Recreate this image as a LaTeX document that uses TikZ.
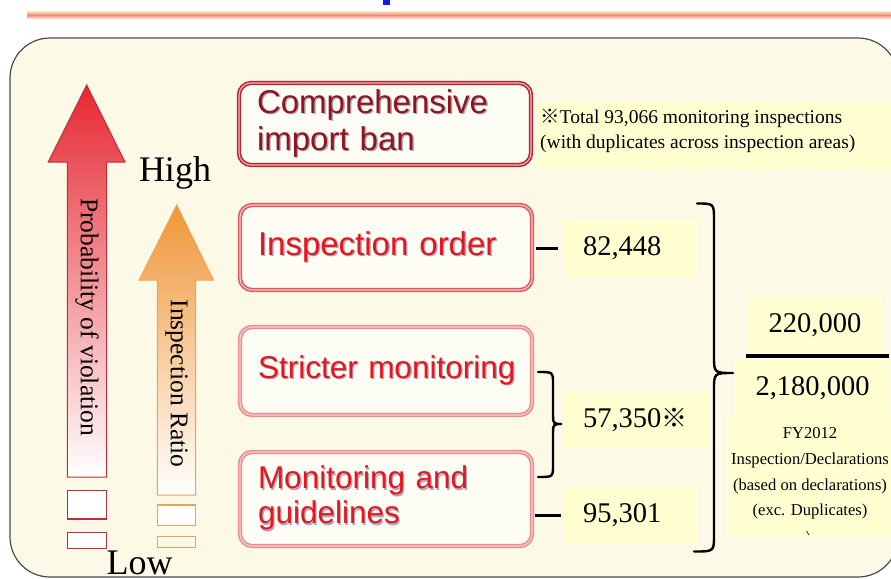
\documentclass[tikz,border=0pt]{standalone}
\usepackage{fontspec}
\setmainfont{Liberation Serif}
\newfontfamily\arialf{Liberation Sans}
\newfontfamily\cjkf{Noto Sans CJK JP}
\usetikzlibrary{calc}

\definecolor{bgcream}{RGB}{252,250,230}
\definecolor{ylw}{RGB}{255,255,210}
\definecolor{darkred}{RGB}{145,20,30}
\definecolor{brred}{RGB}{232,20,30}
\definecolor{frameA}{RGB}{185,35,50}
\definecolor{frameB}{RGB}{226,88,92}
\definecolor{frameC}{RGB}{236,140,140}
\definecolor{arrred}{RGB}{230,40,50}
\definecolor{arrpink}{RGB}{240,120,135}
\definecolor{arrredline}{RGB}{185,45,60}
\definecolor{arrorange}{RGB}{240,150,55}
\definecolor{arrorangelt}{RGB}{246,195,140}
\definecolor{arrorangeline}{RGB}{236,160,90}
\definecolor{titleblue}{RGB}{25,25,225}
\definecolor{lineTop}{RGB}{250,216,192}
\definecolor{lineMid}{RGB}{240,140,110}
\definecolor{lineBot}{RGB}{252,226,212}
\definecolor{shadowc}{RGB}{170,170,185}

\newcommand\shtxt[1]{\mbox{\rlap{\kern1.4pt\raisebox{-1.4pt}{\textcolor{shadowc}{#1}}}#1}}

\begin{document}
\begin{tikzpicture}[x=1pt,y=-1pt,
  lvlbox/.style={rounded corners=12pt, fill=bgcream!40!white, minimum width=292pt,
    inner xsep=18pt, inner ysep=0pt, text width=256pt, align=left,
    font=\arialf\fontsize{31.5}{35}\selectfont, line width=1.6pt, double distance=1.1pt},
  numbox/.style={fill=ylw, inner ysep=0pt, inner xsep=20pt, align=left,
    font=\fontsize{28.5}{30}\selectfont},
  ybox/.style={fill=ylw, inner sep=0pt},
  conn/.style={line width=3pt, draw=black},
  bracestyle/.style={line width=2.4pt, draw=black, line cap=round},
  sidetxt/.style={font=\fontsize{25.5}{27}\selectfont, rotate=-90, inner sep=0pt},
  bigword/.style={font=\fontsize{36}{38}\selectfont, inner sep=0pt, anchor=base},
  smallrectR/.style={draw=arrredline, line width=1.4pt, fill=white},
  smallrectO/.style={draw=arrorangeline, line width=1.4pt, fill=white}
]
\useasboundingbox (0,0) rectangle (891,578);
\fill[white] (0,0) rectangle (891,578);

% title remnant and rule
\fill[titleblue] (383,0) rectangle (390,5);
\shade[top color=lineTop, bottom color=lineBot, middle color=lineMid] (27,11.7) rectangle (891,18.3);

% outer frame
\draw[rounded corners=40pt, fill=bgcream, draw=black!70, line width=1.2pt] (10,38) rectangle (898,577);

% arrows
\shadedraw[top color=arrred, middle color=arrpink, bottom color=white, draw=arrredline, line width=1pt]
  (86.7,85) -- (125,162) -- (106.7,162) -- (106.7,477) -- (67.3,477) -- (67.3,162) -- (48.3,162) -- cycle;
\shadedraw[top color=arrorange, middle color=arrorangelt, bottom color=white, draw=arrorangeline, line width=1pt]
  (176.7,205) -- (213.3,280) -- (195.7,280) -- (195.7,495) -- (157.3,495) -- (157.3,280) -- (139.3,280) -- cycle;
\node[sidetxt] (prob) at (87,317) {Probability of violation};
\node[sidetxt] (ratio) at (176.5,383.5) {Inspection Ratio};
\draw[smallrectR] (67.3,490.7) rectangle (106.7,519);
\draw[smallrectR] (67.3,532.7) rectangle (106.7,548.3);
\draw[smallrectO] (157.3,505) rectangle (195.7,525.7);
\draw[smallrectO, fill=bgcream] (157.3,536.7) rectangle (195.7,547.3);
\node[bigword] (high) at (175,181) {High};
\node[bigword] (low) at (139.5,574) {Low};

% level boxes
\node[lvlbox, draw=frameA, double=frameC!60!white, minimum height=82pt, text=darkred,
  font=\arialf\fontsize{33}{37}\selectfont] (ban) at (385,124) {\shtxt{Comprehensive}\\\shtxt{import ban}};
\node[lvlbox, draw=frameB, double=frameC!45!white, minimum height=85pt, text=brred,
  font=\arialf\fontsize{33}{37}\selectfont] (insp) at (386,247.5) {\shtxt{Inspection order}};
\node[lvlbox, draw=frameC, double=frameC!40!white, minimum height=88pt, text=brred] (strict) at (386,371) {\shtxt{Stricter monitoring}};
\node[lvlbox, draw=frameC, double=frameC!40!white, minimum height=94pt, text=brred] (mon) at (386,499) {\shtxt{Monitoring and}\\\shtxt{guidelines}};

% note
\node[ybox, minimum width=360pt, minimum height=68pt] (notebox) at (718,136) {};
\node[anchor=west, inner sep=0pt, align=left, font=\fontsize{19.5}{25}\selectfont] (notetxt) at (540,131)
  {{\cjkf ※}Total 93,066 monitoring inspections\\(with duplicates across inspection areas)};

% numbers
\node[numbox, minimum width=134pt, minimum height=57pt, text width=94pt] (n82) at (630,248.5) {82,448};
\node[numbox, minimum width=147pt, minimum height=56pt, text width=107pt] (n57) at (636.5,420) {57,350{\cjkf\fontsize{26}{28}\selectfont ※}};
\node[numbox, minimum width=134pt, minimum height=56pt, text width=94pt] (n95) at (630,515) {95,301};

\draw[conn] ([xshift=3pt]insp.east |- n82.west) -- ([xshift=-5pt]n82.west);
\draw[conn] ([xshift=2pt]mon.east |- n95.west) -- ([xshift=-2pt]n95.west);

% small brace
\coordinate (sbA) at (538,372);
\coordinate (sbB) at (538,477);
\draw[bracestyle] (sbA) .. controls (553,372) and (553,372) .. (553,384) -- (553,412)
  .. controls (553,424) and (553,424) .. (562,424) .. controls (553,424) and (553,424) .. (553,436)
  -- (553,465) .. controls (553,477) and (553,477) .. (sbB);

% big brace
\coordinate (bbA) at (697,203.5);
\coordinate (bbB) at (694,551.5);
\draw[bracestyle] (bbA) .. controls (714,203.5) and (714,203.5) .. (714,220) -- (714,356)
  .. controls (714,373) and (714,373) .. (733.5,373) .. controls (714,373) and (714,373) .. (714,390)
  -- (714,535) .. controls (714,551.5) and (714,551.5) .. (bbB);

% totals
\node[ybox, minimum width=134pt, minimum height=56pt, font=\fontsize{28.5}{30}\selectfont] (n220) at (815,325) {220,000};
\node[ybox, minimum width=164pt, minimum height=120pt] (decl) at (809,477) {};
\node[ybox, minimum width=155pt, minimum height=57pt, font=\fontsize{28.5}{30}\selectfont] (n218) at (812.5,388.5) {2,180,000};
\coordinate (fracA) at (746,355.5);
\coordinate (fracB) at (889,355.5);
\draw[line width=4pt] (fracA) -- (fracB);
\node[inner sep=0pt, align=center, font=\fontsize{16.6}{25.6}\selectfont] (decltxt) at (810,473.5)
  {FY2012\\Inspection/Declarations\\(based on declarations)\\(exc. Duplicates)};
\draw[line width=0.6pt] (806.5,531) -- (809,535);
\end{tikzpicture}
\end{document}
